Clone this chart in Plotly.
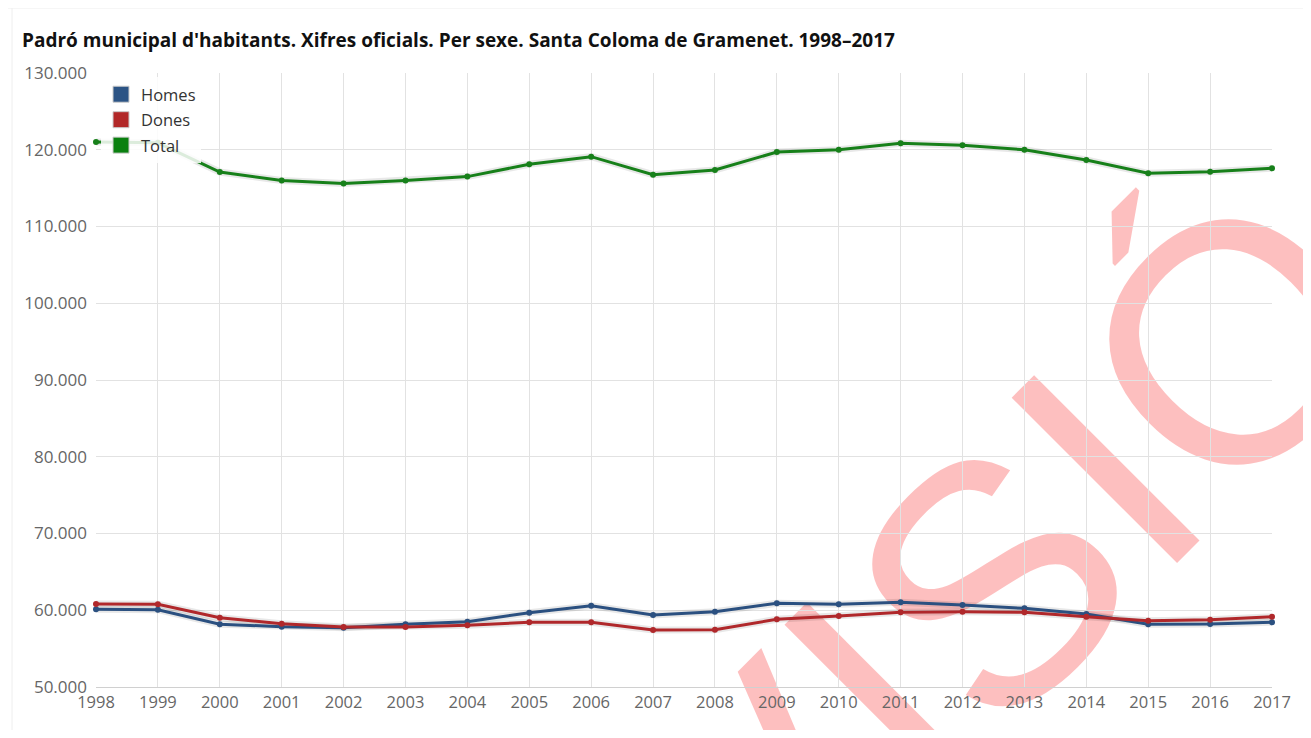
import plotly.graph_objects as go

years = list(range(1998, 2018))
homes = [60120, 60070, 58170, 57860, 57730, 58170, 58510, 59680, 60590, 59380,
         59810, 60900, 60770, 61030, 60680, 60250, 59510, 58170, 58210, 58430]
dones = [60810, 60770, 59030, 58250, 57820, 57820, 58040, 58430, 58430, 57430,
         57470, 58820, 59250, 59730, 59810, 59730, 59160, 58640, 58770, 59160]
total = [121000, 120900, 117100, 116000, 115600, 116000, 116500, 118100, 119100, 116750,
         117360, 119700, 120000, 120840, 120580, 120000, 118660, 116930, 117140, 117580]

series = [("Homes", homes, "#2b5080", "#2c5485"),
          ("Dones", dones, "#b0282b", "#b22828"),
          ("Total", total, "#17801a", "#0a800f")]

title_text = "Padró municipal d'habitants. Xifres oficials. Per sexe. Santa Coloma de Gramenet. 1998–2017"
watermark = "REVISIÓ"

# page body has an 8px margin; figure sized to fit inside the 1311x738 window
OFF = 8
W, H = 1311 - 2 * OFF, 738 - 2 * OFF
PL, PR, PT, PB = 96, 1272, 73, 687          # plot area in window pixels
L, T = PL - OFF, PT - OFF
R = W - L - (PR - PL)
B = H - T - (PB - PT)
PW, PH = PR - PL, PB - PT


def px(sx):
    return (sx - PL) / PW


def py(sy):
    return (PB - sy) / PH


fig = go.Figure()

# shadows
for name, vals, lc, sc in series:
    fig.add_trace(go.Scatter(x=years, y=vals, mode="lines",
                             line=dict(color="rgba(0,0,0,0.09)", width=7),
                             hoverinfo="skip", showlegend=False, cliponaxis=False))
# lines
for name, vals, lc, sc in series:
    fig.add_trace(go.Scatter(x=years, y=vals, mode="lines+markers", name=name,
                             line=dict(color=lc, width=3),
                             marker=dict(color=lc, size=6),
                             showlegend=False, cliponaxis=False))
# legend entries (square symbols)
for name, vals, lc, sc in series:
    fig.add_trace(go.Scatter(x=[None], y=[None], mode="markers", name=name,
                             legendgroup=name,
                             marker=dict(symbol="square", size=17, color=sc,
                                         line=dict(color="#cccccc", width=1))))

fig.update_layout(
    width=W, height=H,
    margin=dict(l=L, r=R, t=T, b=B),
    paper_bgcolor="white", plot_bgcolor="white",
    separators=",.",
    font=dict(family="Open Sans, sans-serif", size=17, color="#666666"),
    title=dict(text=title_text, x=(22 - OFF) / W, xref="container", xanchor="left",
               y=1 - (40 - OFF) / H, yref="container", yanchor="middle",
               font=dict(family="Open Sans, sans-serif", size=19, color="#111111",
                         weight="bold")),
    xaxis=dict(range=[1998, 2017], tickmode="array", tickvals=years,
               ticktext=[str(y) for y in years], showgrid=True, gridcolor="#e2e2e2",
               gridwidth=1, zeroline=False, showline=True, linecolor="#d0d0d0",
               ticks="", tickfont=dict(size=16.5, color="#666666")),
    yaxis=dict(range=[50000, 130000], dtick=10000, tickformat=",d",
               showgrid=True, gridcolor="#e2e2e2", gridwidth=1, zeroline=False,
               ticks="", ticklabelstandoff=8, tickfont=dict(size=17, color="#666666")),
    legend=dict(x=px(101), y=py(77),
                xanchor="left", yanchor="top", bgcolor="rgba(255,255,255,0.85)",
                traceorder="grouped", tracegroupgap=1,
                font=dict(family="Open Sans, sans-serif", size=16.5, color="#333333")),
    showlegend=True,
)

# container border
fig.add_shape(type="line", xref="paper", yref="paper",
              x0=px(5), x1=px(1311), y0=py(8), y1=py(8),
              line=dict(color="#eeeeee", width=1), layer="below")
fig.add_shape(type="line", xref="paper", yref="paper",
              x0=px(12), x1=px(12), y0=py(8), y1=py(738),
              line=dict(color="#eeeeee", width=1), layer="below")

# watermark, drawn beneath the gridlines as a shape label
cx, cy = 815, 713
fig.add_shape(type="rect", xref="paper", yref="paper",
              x0=px(cx - 5), x1=px(cx + 5), y0=py(cy + 5), y1=py(cy - 5),
              line=dict(width=0), fillcolor="rgba(0,0,0,0)", layer="below",
              label=dict(text=watermark, textangle=-45, textposition="middle center",
                         font=dict(family="Liberation Sans, Arial, sans-serif", size=340,
                                   color="rgba(248,0,0,0.25)")))

fig.write_html("out.html")
